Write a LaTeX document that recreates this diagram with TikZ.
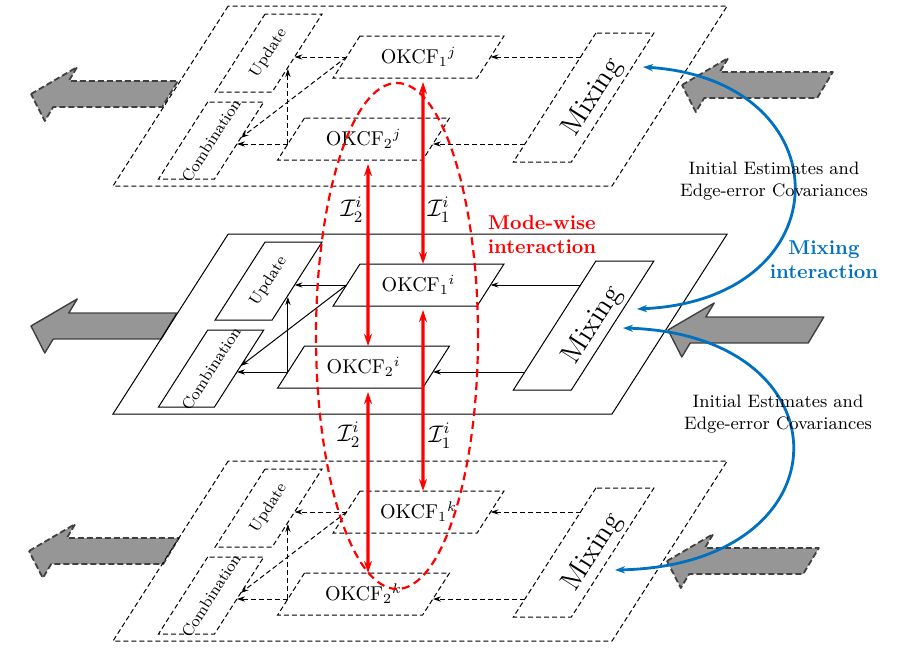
\documentclass[tikz,border=0pt]{standalone}
\usetikzlibrary{arrows.meta}

\definecolor{modered}{RGB}{255,0,0}
\definecolor{mixblue}{RGB}{0,112,192}
\definecolor{arrowfill}{RGB}{150,150,150}
\definecolor{arrowline}{RGB}{64,64,64}

\begin{document}
\begin{tikzpicture}[%
    x=0.5pt,
    y=-0.5pt,
    >={Stealth[length=4pt,width=2.6pt]},
    thindash/.style={dash pattern=on 2.5pt off 1.5pt},
    flow/.style={->, line width=0.5pt},
    slanted/.style={rotate=57.4, inner sep=0pt},
    blockarrow/.style={fill=arrowfill, draw=arrowline, line width=0.7pt, line join=round},
    blockdash/.style={dash pattern=on 3pt off 1.5pt, line width=0.9pt},
    modewise/.style={modered, line width=1.6pt, shorten <=2pt,
      {Stealth[length=6pt,width=4pt]}-{Stealth[length=6pt,width=4pt]}},
    mixing/.style={mixblue, line width=1.4pt,
      {Stealth[length=5pt,width=3.6pt]}-{Stealth[length=5pt,width=3.6pt]}}
  ]
  \useasboundingbox (0,0) rectangle (902,653);

  \foreach \tx/\ty/\blen/\bst in {31/94/139/blockdash, 31/326/138/solid, 29/551/142/blockdash,
                                  682/85/143/blockdash, 668/330/148/solid, 667/561/144/blockdash}
    \draw[blockarrow, \bst, shift={(\tx,\ty)}, xslant=0.6]
      (0,0) -- (30,-27) -- (30,-13) -- (\blen,-13) -- (\blen,13) -- (30,13) -- (30,27) -- cycle;

  \foreach \yb/\lst/\ly in {186/thindash/j, 414/solid/i, 641/thindash/k}{
    \begin{scope}[shift={(0,\yb)}, xslant=0.64, line width=0.5pt, \lst]
      \draw (113,-180) rectangle (612,0);
      \draw (155,-172) rectangle (212,-94);
      \draw (154,-84) rectangle (210,-7);
      \draw (264,-150) rectangle (408,-108);
      \draw (261,-68) rectangle (406,-26);
      \draw (498,-153) rectangle (556,-24);
      \node[slanted, font=\footnotesize] at (183.5,-133) (upd_\ly) {Update};
      \node[slanted, font=\footnotesize] at (182,-45.5) (comb_\ly) {Combination};
      \node[slanted, font=\Large] at (536,-88.5) (mix_\ly) {Mixing};
      \node at (336,-129) (okcf1_\ly) {OKCF$_1{}^{\ly}$};
      \node at (333.5,-47) (okcf2_\ly) {OKCF$_2{}^{\ly}$};
      \coordinate (o1L_\ly) at (264,-129);
      \coordinate (o1R_\ly) at (408,-129);
      \coordinate (o1T_\ly) at (327,-150);
      \coordinate (o1B_\ly) at (353.9,-108);
      \coordinate (o2L_\ly) at (261,-42);
      \coordinate (o2R_\ly) at (406,-42);
      \coordinate (o2T_\ly) at (324.5,-68);
      \coordinate (o2B_\ly) at (351.4,-26);
      \coordinate (updR_\ly) at (212,-129);
      \coordinate (updV_\ly) at (212,-117);
      \coordinate (combD_\ly) at (210,-48);
      \coordinate (combR_\ly) at (210,-42);
      \coordinate (mix1_\ly) at (498,-129);
      \coordinate (mix2_\ly) at (498,-42);
    \end{scope}
    \draw[flow, \lst] (mix1_\ly) -- (o1R_\ly);
    \draw[flow, \lst] (mix2_\ly) -- (o2R_\ly);
    \draw[flow, \lst] (o1L_\ly) -- (updR_\ly);
    \draw[flow, \lst] (o1L_\ly) -- (combD_\ly);
    \draw[flow, \lst] (o2L_\ly) -- (combR_\ly);
    \draw[flow, \lst] (o2L_\ly) -- (o2L_\ly |- updV_\ly);
  }

  \draw[modewise] (o2B_j) -- (o2T_i);
  \draw[modewise] (o1B_j) -- (o1T_i);
  \draw[modewise] (o2B_i) -- (o2T_k);
  \draw[modewise] (o1B_i) -- (o1T_k);
  \node[font=\large] at (352,210) (I2_ji) {$\mathcal{I}_2^i$};
  \node[font=\large] at (439,210) (I1_ji) {$\mathcal{I}_1^i$};
  \node[font=\large] at (349,435) (I2_ik) {$\mathcal{I}_2^i$};
  \node[font=\large] at (440,436) (I1_ik) {$\mathcal{I}_1^i$};
  \draw[modered, line width=1.1pt, dash pattern=on 4pt off 2.5pt]
    (397,336) ellipse [x radius=40.5pt, y radius=126.5pt];
  \node[text=modered, font=\bfseries, align=center] at (542,235) (modewise_txt) {Mode-wise\\interaction};

  \coordinate (mixin_j) at (643,67);
  \coordinate (mixout_i) at (637,309);
  \coordinate (mixin_i) at (623,328);
  \coordinate (mixout_k) at (615,570);
  \draw[mixing] (mixin_j) .. controls (845,80) and (845,300) .. (mixout_i);
  \draw[mixing] (mixin_i) .. controls (850,335) and (850,565) .. (mixout_k);
  \node[text=mixblue, font=\bfseries, align=center] at (824,260) (mixing_txt) {Mixing\\interaction};
  \node[font=\small, align=center] at (774,181) (init_ji) {Initial Estimates and\\Edge-error Covariances};
  \node[font=\small, align=center] at (778,414) (init_ik) {Initial Estimates and\\Edge-error Covariances};
\end{tikzpicture}
\end{document}
